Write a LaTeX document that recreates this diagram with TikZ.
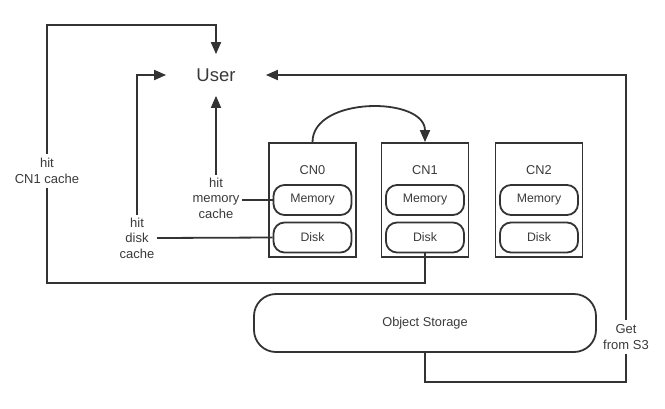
\documentclass[tikz,border=0pt]{standalone}
\usepackage{fontspec}
\setmainfont{Liberation Sans}
\usetikzlibrary{arrows.meta}
\definecolor{ink}{HTML}{333333}
\definecolor{txt}{HTML}{3A3A3A}
\begin{document}
\begin{tikzpicture}[x=1pt,y=-1pt,
  line width=1.8pt, draw=ink, text=txt,
  conn/.style={draw=ink, line width=1.8pt},
  arr/.style={conn, -{Triangle[length=12pt,width=10pt]}},
  cnbox/.style={draw=ink, line width=1.8pt, minimum width=87pt, minimum height=114pt, inner sep=0pt},
  pill/.style={draw=ink, line width=1.8pt, rounded corners=11pt, minimum width=78pt, minimum height=30pt, inner sep=0pt, font=\fontsize{12.3}{14}\selectfont},
  lbl/.style={align=center, font=\fontsize{13}{15.5}\selectfont, inner sep=2pt},
  cnlbl/.style={font=\fontsize{12.8}{14}\selectfont, inner sep=0pt}
]
\useasboundingbox (0,0) rectangle (665,408);

% user
\node[font=\fontsize{18.5}{20}\selectfont, minimum width=98pt, minimum height=40pt, inner sep=0pt] (user) at (216,75) {User};

% compute nodes
\node[cnbox] (cn0) at (312.5,200) {};
\node[cnbox] (cn1) at (425,200) {};
\node[cnbox] (cn2) at (539,200) {};
\node[cnlbl] (t0) at (312.5,170) {CN0};
\node[cnlbl] (t1) at (425,170) {CN1};
\node[cnlbl] (t2) at (539,170) {CN2};
\node[pill] (m0) at (312.5,200) {Memory};
\node[pill] (d0) at (312.5,237.5) {Disk};
\node[pill] (m1) at (425,200) {Memory};
\node[pill] (d1) at (425,237.5) {Disk};
\node[pill] (m2) at (539,200) {Memory};
\node[pill] (d2) at (539,237.5) {Disk};

% object storage
\node[draw=ink, line width=1.8pt, rounded corners=22pt, minimum width=342pt, minimum height=58pt, inner sep=0pt, font=\fontsize{12.8}{14}\selectfont] (os) at (425,323) {Object Storage};

% labels
\node[lbl, inner ysep=4pt] (l1) at (47,171) {hit\\CN1 cache};
\node[lbl] (l2) at (137,238) {hit\\disk\\cache};
\node[lbl] (l3) at (216,198) {hit\\memory\\cache};
\node[lbl, inner ysep=4pt] (l4) at (626,337) {Get\\from S3};

\coordinate (c1a) at (47,283);
\coordinate (c1b) at (47,25);
\coordinate (c4) at (626,382);

% hit CN1 cache
\draw[conn] (d1.south) |- (c1a) -- (l1.south);
\draw[arr] (l1.north) -- (c1b) -| (user.north);

% hit disk cache
\draw[arr] (l2.north) |- (user.west);
\draw[conn] (l2.east) -- (d0.west);

% hit memory cache
\draw[arr] (l3.north) -- (user.south);
\draw[conn] (l3.east |- m0.west) -- (m0.west);

% CN0 -> CN1
\draw[arr] (cn0.north) .. controls +(0,-46) and +(0,-46) .. (cn1.north);

% get from S3
\draw[conn] (os.south) |- (c4) -- (l4.south);
\draw[arr] (l4.north) |- (user.east);
\end{tikzpicture}
\end{document}
